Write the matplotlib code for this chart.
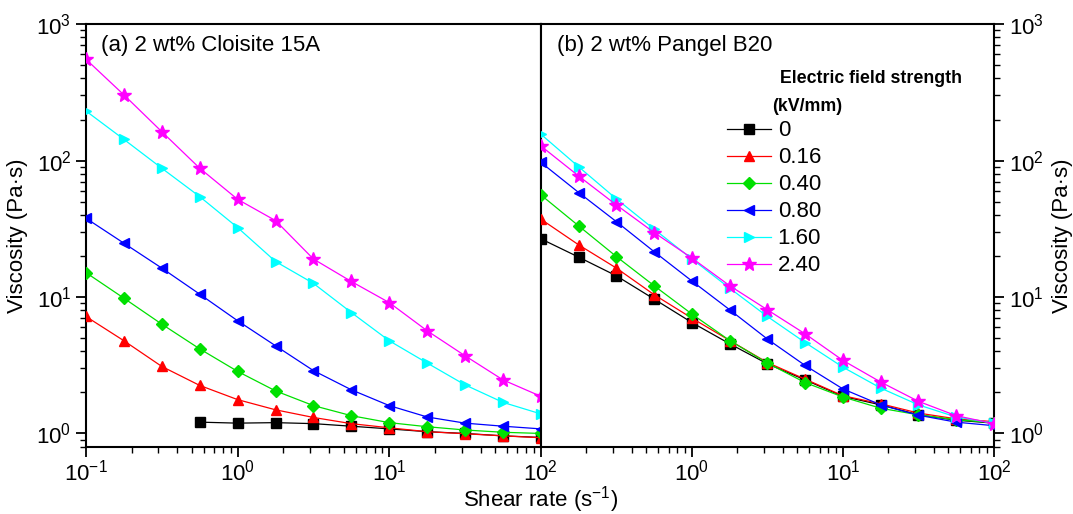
import matplotlib
matplotlib.use('Agg')
import matplotlib.pyplot as plt
from matplotlib.ticker import LogLocator, NullFormatter, FixedLocator

plt.rcParams['font.family'] = ['Liberation Sans', 'DejaVu Sans']
plt.rcParams['mathtext.fontset'] = 'custom'
plt.rcParams['mathtext.rm'] = 'Liberation Sans'

# ---- data ----
shear = [0.1, 0.178, 0.316, 0.562, 1.0, 1.78, 3.16, 5.62, 10.0, 17.8, 31.6, 56.2, 100.0]
shear_a0 = [0.562, 1.0, 1.78, 3.16, 5.62, 10.0, 17.8, 31.6, 56.2, 100.0]

labels = ['0', '0.16', '0.40', '0.80', '1.60', '2.40']
colors = ['black', 'red', '#00e000', 'blue', 'cyan', 'magenta']
markers = ['s', '^', 'D', '<', '>', '*']

# (a) 2 wt% Cloisite 15A
a_0 = [1.21, 1.19, 1.20, 1.18, 1.13, 1.08, 1.03, 1.00, 0.96, 0.935]
a_016 = [7.2, 4.78, 3.10, 2.25, 1.77, 1.49, 1.31, 1.18, 1.10, 1.03, 0.995, 0.96, 0.93]
a_040 = [15.1, 9.8, 6.33, 4.17, 2.85, 2.05, 1.60, 1.35, 1.20, 1.12, 1.06, 1.02, 1.00]
a_080 = [37.8, 24.8, 16.3, 10.5, 6.7, 4.39, 2.89, 2.09, 1.60, 1.32, 1.19, 1.13, 1.08]
a_160 = [231, 143, 88, 54.5, 32.3, 18.2, 12.6, 7.7, 4.78, 3.28, 2.27, 1.69, 1.39]
a_240 = [553, 303, 163, 88, 52, 36.3, 19, 13, 9.1, 5.65, 3.71, 2.47, 1.87]

# (b) 2 wt% Pangel B20
b_0 = [26.7, 19.6, 14.3, 9.66, 6.5, 4.54, 3.24, 2.47, 1.87, 1.62, 1.37, 1.25, 1.19]
b_016 = [37.2, 24.1, 16.3, 10.4, 7.0, 4.8, 3.31, 2.50, 1.89, 1.65, 1.41, 1.28, 1.22]
b_040 = [56, 33.2, 19.8, 12.1, 7.5, 4.8, 3.28, 2.36, 1.85, 1.53, 1.37, 1.26, 1.20]
b_080 = [97, 58.3, 35.7, 21.5, 13.1, 8.06, 4.92, 3.15, 2.12, 1.62, 1.36, 1.21, 1.14]
b_160 = [156, 90, 52.4, 31.4, 19, 11.6, 7.2, 4.64, 3.06, 2.15, 1.62, 1.32, 1.19]
b_240 = [128, 77, 47.3, 29.7, 19.3, 12.1, 8.06, 5.37, 3.43, 2.38, 1.72, 1.35, 1.18]

series_a = [(shear_a0, a_0), (shear, a_016), (shear, a_040),
            (shear, a_080), (shear, a_160), (shear, a_240)]
series_b = [(shear, b_0), (shear, b_016), (shear, b_040),
            (shear, b_080), (shear, b_160), (shear, b_240)]

fig = plt.figure(figsize=(10.73, 5.14), dpi=100)
ax1 = fig.add_axes([0.0801, 0.131, 0.4240, 0.822])
ax2 = fig.add_axes([0.5041, 0.131, 0.4222, 0.822])

fs = 16

def tracer(ax, series):
    for (x, y), lab, c, m in zip(series, labels, colors, markers):
        ms = 10 if m == '*' else 7
        if m == 'D':
            ms = 6
        ax.plot(x, y, color=c, marker=m, markersize=ms, linewidth=0.9,
                markeredgecolor=c, label=lab, zorder=3)
    ax.set_xscale('log')
    ax.set_yscale('log')
    ax.set_xlim(0.1, 100)
    ax.set_ylim(0.8, 1000)
    ax.xaxis.set_minor_locator(LogLocator(base=10, subs=range(2, 10), numticks=20))
    ax.yaxis.set_minor_locator(LogLocator(base=10, subs=range(2, 10), numticks=20))
    ax.xaxis.set_minor_formatter(NullFormatter())
    ax.yaxis.set_minor_formatter(NullFormatter())
    ax.tick_params(which='major', direction='out', length=7, width=1.3, labelsize=fs)
    ax.tick_params(axis='x', which='major', pad=2)
    ax.tick_params(which='minor', direction='out', length=4, width=1.0)
    for s in ax.spines.values():
        s.set_linewidth(1.5)

tracer(ax1, series_a)
tracer(ax2, series_b)

ax1.set_ylabel('Viscosity (Pa·s)', fontsize=fs, labelpad=6)
ax1.text(0.032, 0.95, '(a) 2 wt% Cloisite 15A', transform=ax1.transAxes,
         fontsize=fs, va='center', ha='left')

ax2.yaxis.tick_right()
ax2.yaxis.set_label_position('right')
ax2.set_ylabel('Viscosity (Pa·s)', fontsize=fs, labelpad=6)
ax2.xaxis.set_major_locator(FixedLocator([1, 10, 100]))
ax2.text(0.035, 0.95, '(b) 2 wt% Pangel B20', transform=ax2.transAxes,
         fontsize=fs, va='center', ha='left')
ax2.text(0.528, 0.872, 'Electric field strength', transform=ax2.transAxes,
         fontsize=12.8, fontweight='bold', va='center', ha='left')
ax2.text(0.510, 0.806, '(kV/mm)', transform=ax2.transAxes,
         fontsize=12.8, fontweight='bold', va='center', ha='left')
ax2.legend(loc='upper left', bbox_to_anchor=(0.41, 0.772), frameon=False,
           fontsize=fs, handlelength=2.0, handletextpad=0.3, labelspacing=0.27,
           borderpad=0, borderaxespad=0)

fig.text(0.504, 0.028, 'Shear rate (s$^{-1}$)', fontsize=fs, ha='center', va='center')

fig.savefig('out.png', dpi=100)
